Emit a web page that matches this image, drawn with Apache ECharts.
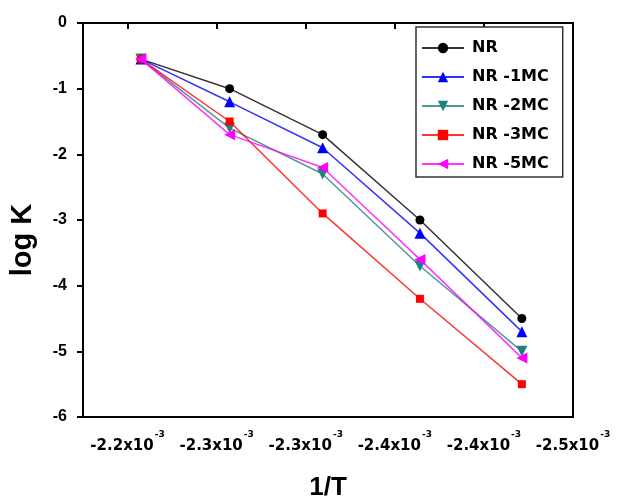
<!DOCTYPE html>
<html>
<head>
<meta charset="utf-8">
<script src="https://cdn.jsdelivr.net/npm/echarts@6/dist/echarts.min.js"></script>
<style>
html,body{margin:0;padding:0;background:#fff;}
#chart{width:617px;height:499px;}
</style>
</head>
<body>
<div id="chart"></div>
<script>
// 1/T values in units of 10^-3 (K^-1)
var invT = [-2.2075, -2.2573, -2.3095, -2.3641, -2.4213];
var seriesNames = ['NR', 'NR -1MC', 'NR -2MC', 'NR -3MC', 'NR -5MC'];
var logK_NR    = [-0.55, -1.0, -1.7, -3.0, -4.5];
var logK_1MC   = [-0.55, -1.2, -1.9, -3.2, -4.7];
var logK_2MC   = [-0.55, -1.6, -2.3, -3.7, -5.0];
var logK_3MC   = [-0.55, -1.5, -2.9, -4.2, -5.5];
var logK_5MC   = [-0.55, -1.7, -2.2, -3.6, -5.1];
// x tick values (x10^-3) and their printed labels
var xTickStart = -2.20, xTickStep = -0.05;
var xTickLabels = ['-2.2', '-2.3', '-2.3', '-2.4', '-2.4', '-2.5'];

var FONT = '"Liberation Sans", Arial, sans-serif';
var WIDE = '"DejaVu Sans", sans-serif';
var colors = ['#000000', '#0000ff', '#238080', '#ff0000', '#ff00ff'];
var symbols = ['circle', 'triangle', 'triangle', 'rect', 'triangle'];
var rotates = [0, 0, 180, 0, 90];
var sizes = [9, 11, 11, 8, 11];
var allData = [logK_NR, logK_1MC, logK_2MC, logK_3MC, logK_5MC];

function pairs(ys) {
  return invT.map(function (x, i) { return [x, ys[i]]; });
}

var series = allData.map(function (ys, k) {
  return {
    name: seriesNames[k],
    type: 'line',
    data: pairs(ys),
    symbol: symbols[k],
    symbolSize: sizes[k],
    symbolRotate: rotates[k],
    itemStyle: { color: colors[k] },
    lineStyle: { color: colors[k], width: 1.5, opacity: 0.8 },
    z: 2 + k
  };
});

var chart = echarts.init(document.getElementById('chart'), null, { renderer: 'canvas' });
chart.setOption({
  animation: false,
  backgroundColor: '#ffffff',
  grid: {
    left: 83, top: 23, right: 44, bottom: 82,
    show: true, borderColor: '#000', borderWidth: 2, backgroundColor: 'transparent'
  },
  legend: {
    orient: 'vertical',
    left: 416, top: 27,
    padding: [13, 14, 5, 5],
    itemWidth: 42, itemHeight: 13, itemGap: 13,
    borderColor: '#333', borderWidth: 1.5,
    backgroundColor: '#fff',
    textStyle: { fontFamily: WIDE, fontWeight: 'bold', fontSize: 16, color: '#000', padding: [0, 0, 0, 3] },
    data: seriesNames
  },
  xAxis: {
    type: 'value',
    inverse: true,
    min: -2.45, max: -2.175, interval: 0.05,
    splitLine: { show: false },
    axisLine: { lineStyle: { color: '#000', width: 2 } },
    axisTick: { length: 6, lineStyle: { color: '#000', width: 2 } },
    axisLabel: {
      showMaxLabel: false,
      margin: 12,
      formatter: function (v) {
        var idx = Math.round((v - xTickStart) / xTickStep);
        if (idx < 0 || idx >= xTickLabels.length) return '';
        if (Math.abs(xTickStart + idx * xTickStep - v) > 1e-6) return '';
        return '{a|' + xTickLabels[idx] + 'x10}{b|-3}';
      },
      rich: {
        a: { fontFamily: WIDE, fontWeight: 'bold', fontSize: 15, color: '#000', padding: [10, 0, 0, 0] },
        b: { fontFamily: WIDE, fontWeight: 'bold', fontSize: 9, color: '#000', verticalAlign: 'top', padding: [1, 0, 0, 1] }
      }
    }
  },
  yAxis: {
    type: 'value',
    min: -6, max: 0, interval: 1,
    splitLine: { show: false },
    axisLine: { lineStyle: { color: '#000', width: 2 } },
    axisTick: { length: 6, lineStyle: { color: '#000', width: 2 } },
    axisLabel: { fontFamily: FONT, fontWeight: 'bold', fontSize: 16, color: '#000', margin: 16 }
  },
  graphic: [
    { type: 'text', x: 328, y: 488,
      style: { text: '1/T', font: 'bold 26px ' + FONT, fill: '#000', textAlign: 'center', textVerticalAlign: 'middle' } },
    { type: 'text', rotation: Math.PI / 2, x: 23, y: 240,
      style: { text: 'log K', font: 'bold 29px ' + FONT, fill: '#000', textAlign: 'center', textVerticalAlign: 'middle' } }
  ],
  series: series
});
</script>
</body>
</html>
